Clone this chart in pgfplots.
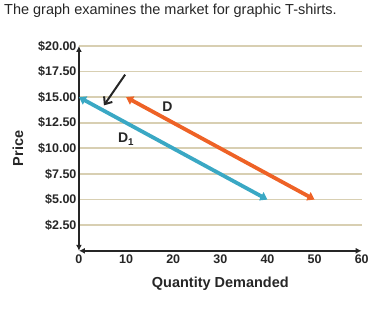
\documentclass[border=0pt]{standalone}
\usepackage{fontspec}
\setmainfont{Liberation Sans}
\usepackage{pgfplots}
\pgfplotsset{compat=1.18}
\usetikzlibrary{arrows.meta}
\definecolor{gridtan}{RGB}{216,207,178}
\definecolor{dblue}{RGB}{58,168,196}
\definecolor{dorange}{RGB}{238,98,38}
\begin{document}
\begin{tikzpicture}
\path (0pt,0pt) rectangle (372pt,310pt);
\node[anchor=north west, inner sep=0pt, font=\fontsize{14.5}{16}\selectfont, text=black!85] at (4pt,306pt) {The graph examines the market for graphic T-shirts.};
\begin{axis}[
  at={(79pt,59pt)}, anchor=south west,
  scale only axis, width=283pt, height=205pt,
  xmin=0, xmax=60, ymin=0, ymax=20,
  axis lines=left,
  axis line style={{Latex[length=6pt,width=6pt]}-{Latex[length=6pt,width=6pt]}, line width=2.2pt, black!85},
  major tick length=0pt,
  xtick={0,10,20,30,40,50,60},
  xticklabels={0,10,20,30,40,50,60},
  ytick={2.5,5,7.5,10,12.5,15,17.5,20},
  yticklabels={\$2.50,\$5.00,\$7.50,\$10.00,\$12.50,\$15.00,\$17.50,\$20.00},
  ticklabel style={font=\bfseries\fontsize{12.5}{13}\selectfont, text=black!85},
  yticklabel style={xshift=1pt},
  ymajorgrids, major grid style={gridtan, line width=1.8pt},
  xlabel={Quantity Demanded}, ylabel={Price},
  label style={font=\bfseries\fontsize{14.5}{16}\selectfont, text=black!85},
  xlabel style={at={(axis description cs:0.5,-0.16)}, anchor=center},
  ylabel style={at={(axis description cs:-0.216,0.5)}, anchor=center, rotate=0},
  clip=false,
]
\addplot[dblue, line width=3.8pt, {Triangle[length=7pt,width=9pt]}-{Triangle[length=7pt,width=9pt]}] coordinates {(0,15) (40,5)};
\addplot[dorange, line width=3.8pt, {Triangle[length=7pt,width=9pt]}-{Triangle[length=7pt,width=9pt]}] coordinates {(10,15) (50,5)};
\addplot[black!85, line width=2pt, -{Straight Barb[length=6pt,width=10pt]}] coordinates {(9.8,17.2) (5.3,14.2)};
\node[font=\bfseries\fontsize{14}{16}\selectfont, text=black!85] at (axis cs:18.8,14.1) {D};
\node[font=\bfseries\fontsize{14}{16}\selectfont, text=black!85] at (axis cs:10,10.9) {D\textsubscript{1}};
\end{axis}
\end{tikzpicture}
\end{document}
